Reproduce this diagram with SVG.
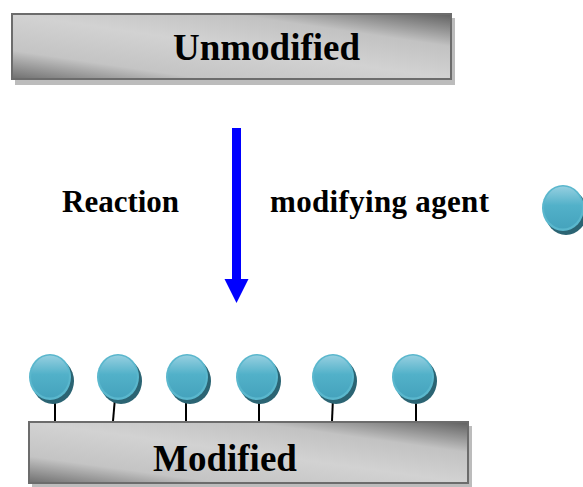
<svg xmlns="http://www.w3.org/2000/svg" width="583" height="487" viewBox="0 0 583 487">
  <defs>
    <linearGradient id="barFill" x1="0" y1="1" x2="1" y2="0">
      <stop offset="0" stop-color="#6f6f6f"/>
      <stop offset="0.22" stop-color="#c4c4c4"/>
      <stop offset="0.5" stop-color="#d2d2d2"/>
      <stop offset="0.75" stop-color="#c2c2c2"/>
      <stop offset="1" stop-color="#606060"/>
    </linearGradient>
    <linearGradient id="ballFill" x1="0" y1="0" x2="0" y2="1">
      <stop offset="0" stop-color="#95cfe0"/>
      <stop offset="0.45" stop-color="#52b1c9"/>
      <stop offset="1" stop-color="#45a3bd"/>
    </linearGradient>
    <g id="ball">
      <ellipse cx="3" cy="4" rx="21" ry="23" fill="#2b6473"/>
      <ellipse cx="0" cy="0" rx="21" ry="23" fill="#5ab7cd"/>
      <ellipse cx="0" cy="-0.5" rx="19" ry="21" fill="url(#ballFill)"/>
    </g>
  </defs>
  <style>
    .shadow { fill: #bcbcbc; }
    .bar { fill: url(#barFill); stroke: #6c6c6c; stroke-width: 2; }
    .title { font-family: "Liberation Serif", "Times New Roman", serif; font-weight: bold; font-size: 37px; fill: #000; }
    .label { font-family: "Liberation Serif", "Times New Roman", serif; font-weight: bold; font-size: 31px; fill: #000; }
    .stem { stroke: #000; stroke-width: 2; fill: none; }
  </style>

  <!-- starting surface -->
  <g id="unmodified">
    <rect class="shadow" x="15" y="18" width="440" height="67"/>
    <rect class="bar" x="12" y="14" width="439" height="65"/>
    <text class="title" x="173" y="60">Unmodified</text>
  </g>

  <!-- reaction step -->
  <g id="connectors">
    <rect x="232" y="128" width="9" height="152" fill="#0000ff"/>
    <polygon points="224.5,279 248.5,279 236.5,303" fill="#0000ff"/>
  </g>
  <g id="reaction-label">
    <text class="label" x="62" y="212">Reaction</text>
  </g>
  <g id="agent-label">
    <text class="label" x="270" y="212" textLength="219" lengthAdjust="spacing">modifying agent</text>
  </g>
  <g id="agent">
    <use href="#ball" x="563" y="208"/>
  </g>

  <!-- grafted groups -->
  <g id="stems">
    <line class="stem" x1="55" y1="398" x2="55" y2="421"/>
    <line class="stem" x1="115" y1="398" x2="113" y2="421"/>
    <line class="stem" x1="186" y1="398" x2="186" y2="421"/>
    <line class="stem" x1="259" y1="398" x2="259" y2="421"/>
    <line class="stem" x1="333" y1="398" x2="332" y2="421"/>
    <line class="stem" x1="416" y1="398" x2="416" y2="421"/>
  </g>
  <g id="group-1"><use href="#ball" x="50" y="377"/></g>
  <g id="group-2"><use href="#ball" x="118" y="377"/></g>
  <g id="group-3"><use href="#ball" x="187" y="377"/></g>
  <g id="group-4"><use href="#ball" x="257" y="377"/></g>
  <g id="group-5"><use href="#ball" x="333" y="377"/></g>
  <g id="group-6"><use href="#ball" x="413" y="377"/></g>

  <!-- modified surface -->
  <g id="modified">
    <rect class="shadow" x="32" y="426" width="440" height="62"/>
    <rect class="bar" x="29" y="422" width="439" height="61"/>
    <text class="title" x="153" y="471">Modified</text>
  </g>
</svg>
